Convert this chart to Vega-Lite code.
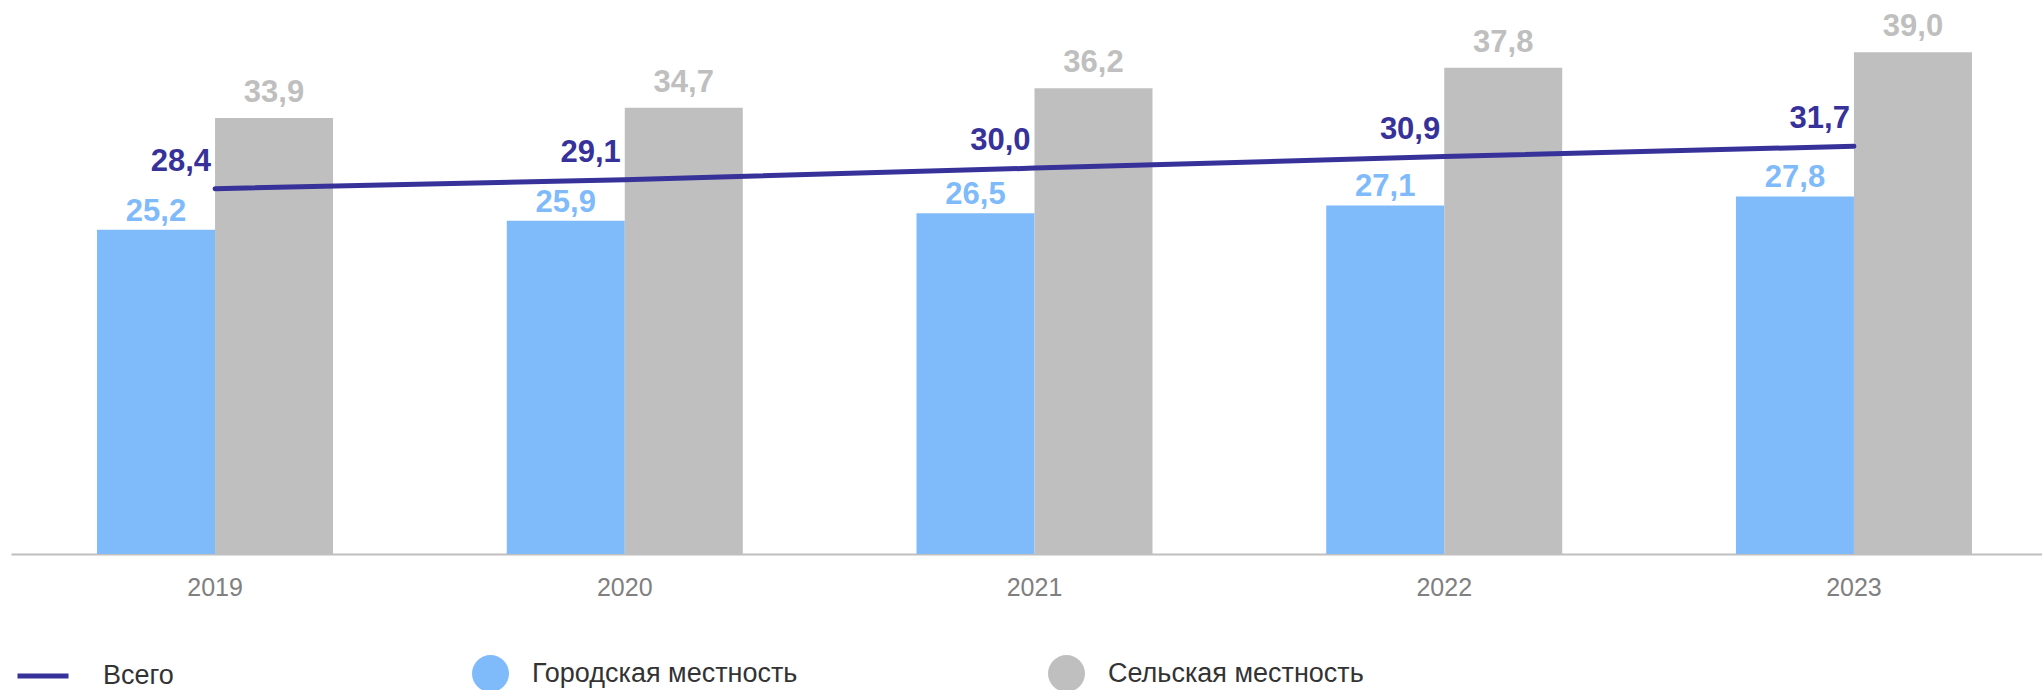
{
  "$schema": "https://vega.github.io/schema/vega-lite/v6.json",
  "width": 2042,
  "height": 554,
  "autosize": {"type": "none"},
  "padding": {"left": 0, "top": 0, "right": 0, "bottom": 136},
  "config": {
    "view": {"stroke": null},
    "font": "Liberation Sans",
    "locale": {
      "number": {"decimal": ",", "thousands": " ", "grouping": [3], "currency": ["", " ₽"]}
    }
  },
  "datasets": {
    "bars": [
      {"year": "2019", "category": "Городская местность", "value": 25.2},
      {"year": "2019", "category": "Сельская местность", "value": 33.9},
      {"year": "2020", "category": "Городская местность", "value": 25.9},
      {"year": "2020", "category": "Сельская местность", "value": 34.7},
      {"year": "2021", "category": "Городская местность", "value": 26.5},
      {"year": "2021", "category": "Сельская местность", "value": 36.2},
      {"year": "2022", "category": "Городская местность", "value": 27.1},
      {"year": "2022", "category": "Сельская местность", "value": 37.8},
      {"year": "2023", "category": "Городская местность", "value": 27.8},
      {"year": "2023", "category": "Сельская местность", "value": 39.0}
    ],
    "total": [
      {"year": "2019", "series": "Всего", "total": 28.4},
      {"year": "2020", "series": "Всего", "total": 29.1},
      {"year": "2021", "series": "Всего", "total": 30.0},
      {"year": "2022", "series": "Всего", "total": 30.9},
      {"year": "2023", "series": "Всего", "total": 31.7}
    ]
  },
  "layer": [
    {
      "data": {"name": "bars"},
      "mark": {"type": "bar"},
      "encoding": {
        "x": {
          "field": "year", "type": "nominal",
          "scale": {"range": [11, 2058], "paddingInner": 0.424, "paddingOuter": 0.21},
          "axis": {
            "title": null, "labelAngle": 0, "ticks": false, "tickSize": 0, "grid": false,
            "domainColor": "#BFBFBF", "domainWidth": 2,
            "labelColor": "#808080", "labelFontSize": 25, "labelFont": "Liberation Sans",
            "labelPadding": 21
          }
        },
        "xOffset": {
          "field": "category", "type": "nominal",
          "scale": {"domain": ["Городская местность", "Сельская местность"], "paddingInner": 0, "paddingOuter": 0}
        },
        "y": {
          "field": "value", "type": "quantitative",
          "scale": {"domain": [0, 43.07], "nice": false, "zero": true},
          "axis": null
        },
        "color": {
          "field": "category", "type": "nominal",
          "scale": {"domain": ["Городская местность", "Сельская местность"], "range": ["#7FBAFB", "#BFBFBF"]},
          "legend": {
            "title": null, "orient": "none", "legendX": 472, "legendY": 655,
            "direction": "horizontal", "symbolType": "circle", "symbolSize": 1369,
            "symbolStrokeWidth": 0, "symbolOpacity": 1,
            "labelFontSize": 27, "labelColor": "#333333", "labelFont": "Liberation Sans",
            "labelOffset": 23, "columnPadding": 250, "labelLimit": 0
          }
        }
      }
    },
    {
      "data": {"name": "bars"},
      "transform": [{"filter": "datum.category === 'Городская местность'"}],
      "mark": {"type": "text", "align": "center", "baseline": "alphabetic", "dy": -9, "fontSize": 31, "fontWeight": "bold", "color": "#7FBAFB", "font": "Liberation Sans"},
      "encoding": {
        "x": {"field": "year", "type": "nominal"},
        "xOffset": {"field": "category", "type": "nominal"},
        "y": {"field": "value", "type": "quantitative"},
        "text": {"field": "value", "type": "quantitative", "format": ".1f"}
      }
    },
    {
      "data": {"name": "bars"},
      "transform": [{"filter": "datum.category === 'Сельская местность'"}],
      "mark": {"type": "text", "align": "center", "baseline": "alphabetic", "dy": -16, "fontSize": 31, "fontWeight": "bold", "color": "#BFBFBF", "font": "Liberation Sans"},
      "encoding": {
        "x": {"field": "year", "type": "nominal"},
        "xOffset": {"field": "category", "type": "nominal"},
        "y": {"field": "value", "type": "quantitative"},
        "text": {"field": "value", "type": "quantitative", "format": ".1f"}
      }
    },
    {
      "data": {"name": "total"},
      "mark": {"type": "line", "strokeWidth": 5, "strokeCap": "round"},
      "encoding": {
        "x": {"field": "year", "type": "nominal"},
        "y": {"field": "total", "type": "quantitative"},
        "stroke": {
          "field": "series", "type": "nominal",
          "scale": {"domain": ["Всего"], "range": ["#37319A"]},
          "legend": {
            "title": null, "orient": "none", "legendX": 15, "legendY": 648,
            "symbolType": "stroke", "symbolSize": 2601, "symbolStrokeWidth": 5,
            "labelFontSize": 27, "labelColor": "#333333", "labelFont": "Liberation Sans",
            "labelOffset": 32, "labelLimit": 0
          }
        }
      }
    },
    {
      "data": {"name": "total"},
      "mark": {"type": "text", "align": "right", "baseline": "alphabetic", "dx": -4, "dy": -18, "fontSize": 31, "fontWeight": "bold", "color": "#37319A", "font": "Liberation Sans"},
      "encoding": {
        "x": {"field": "year", "type": "nominal"},
        "y": {"field": "total", "type": "quantitative"},
        "text": {"field": "total", "type": "quantitative", "format": ".1f"}
      }
    }
  ]
}
